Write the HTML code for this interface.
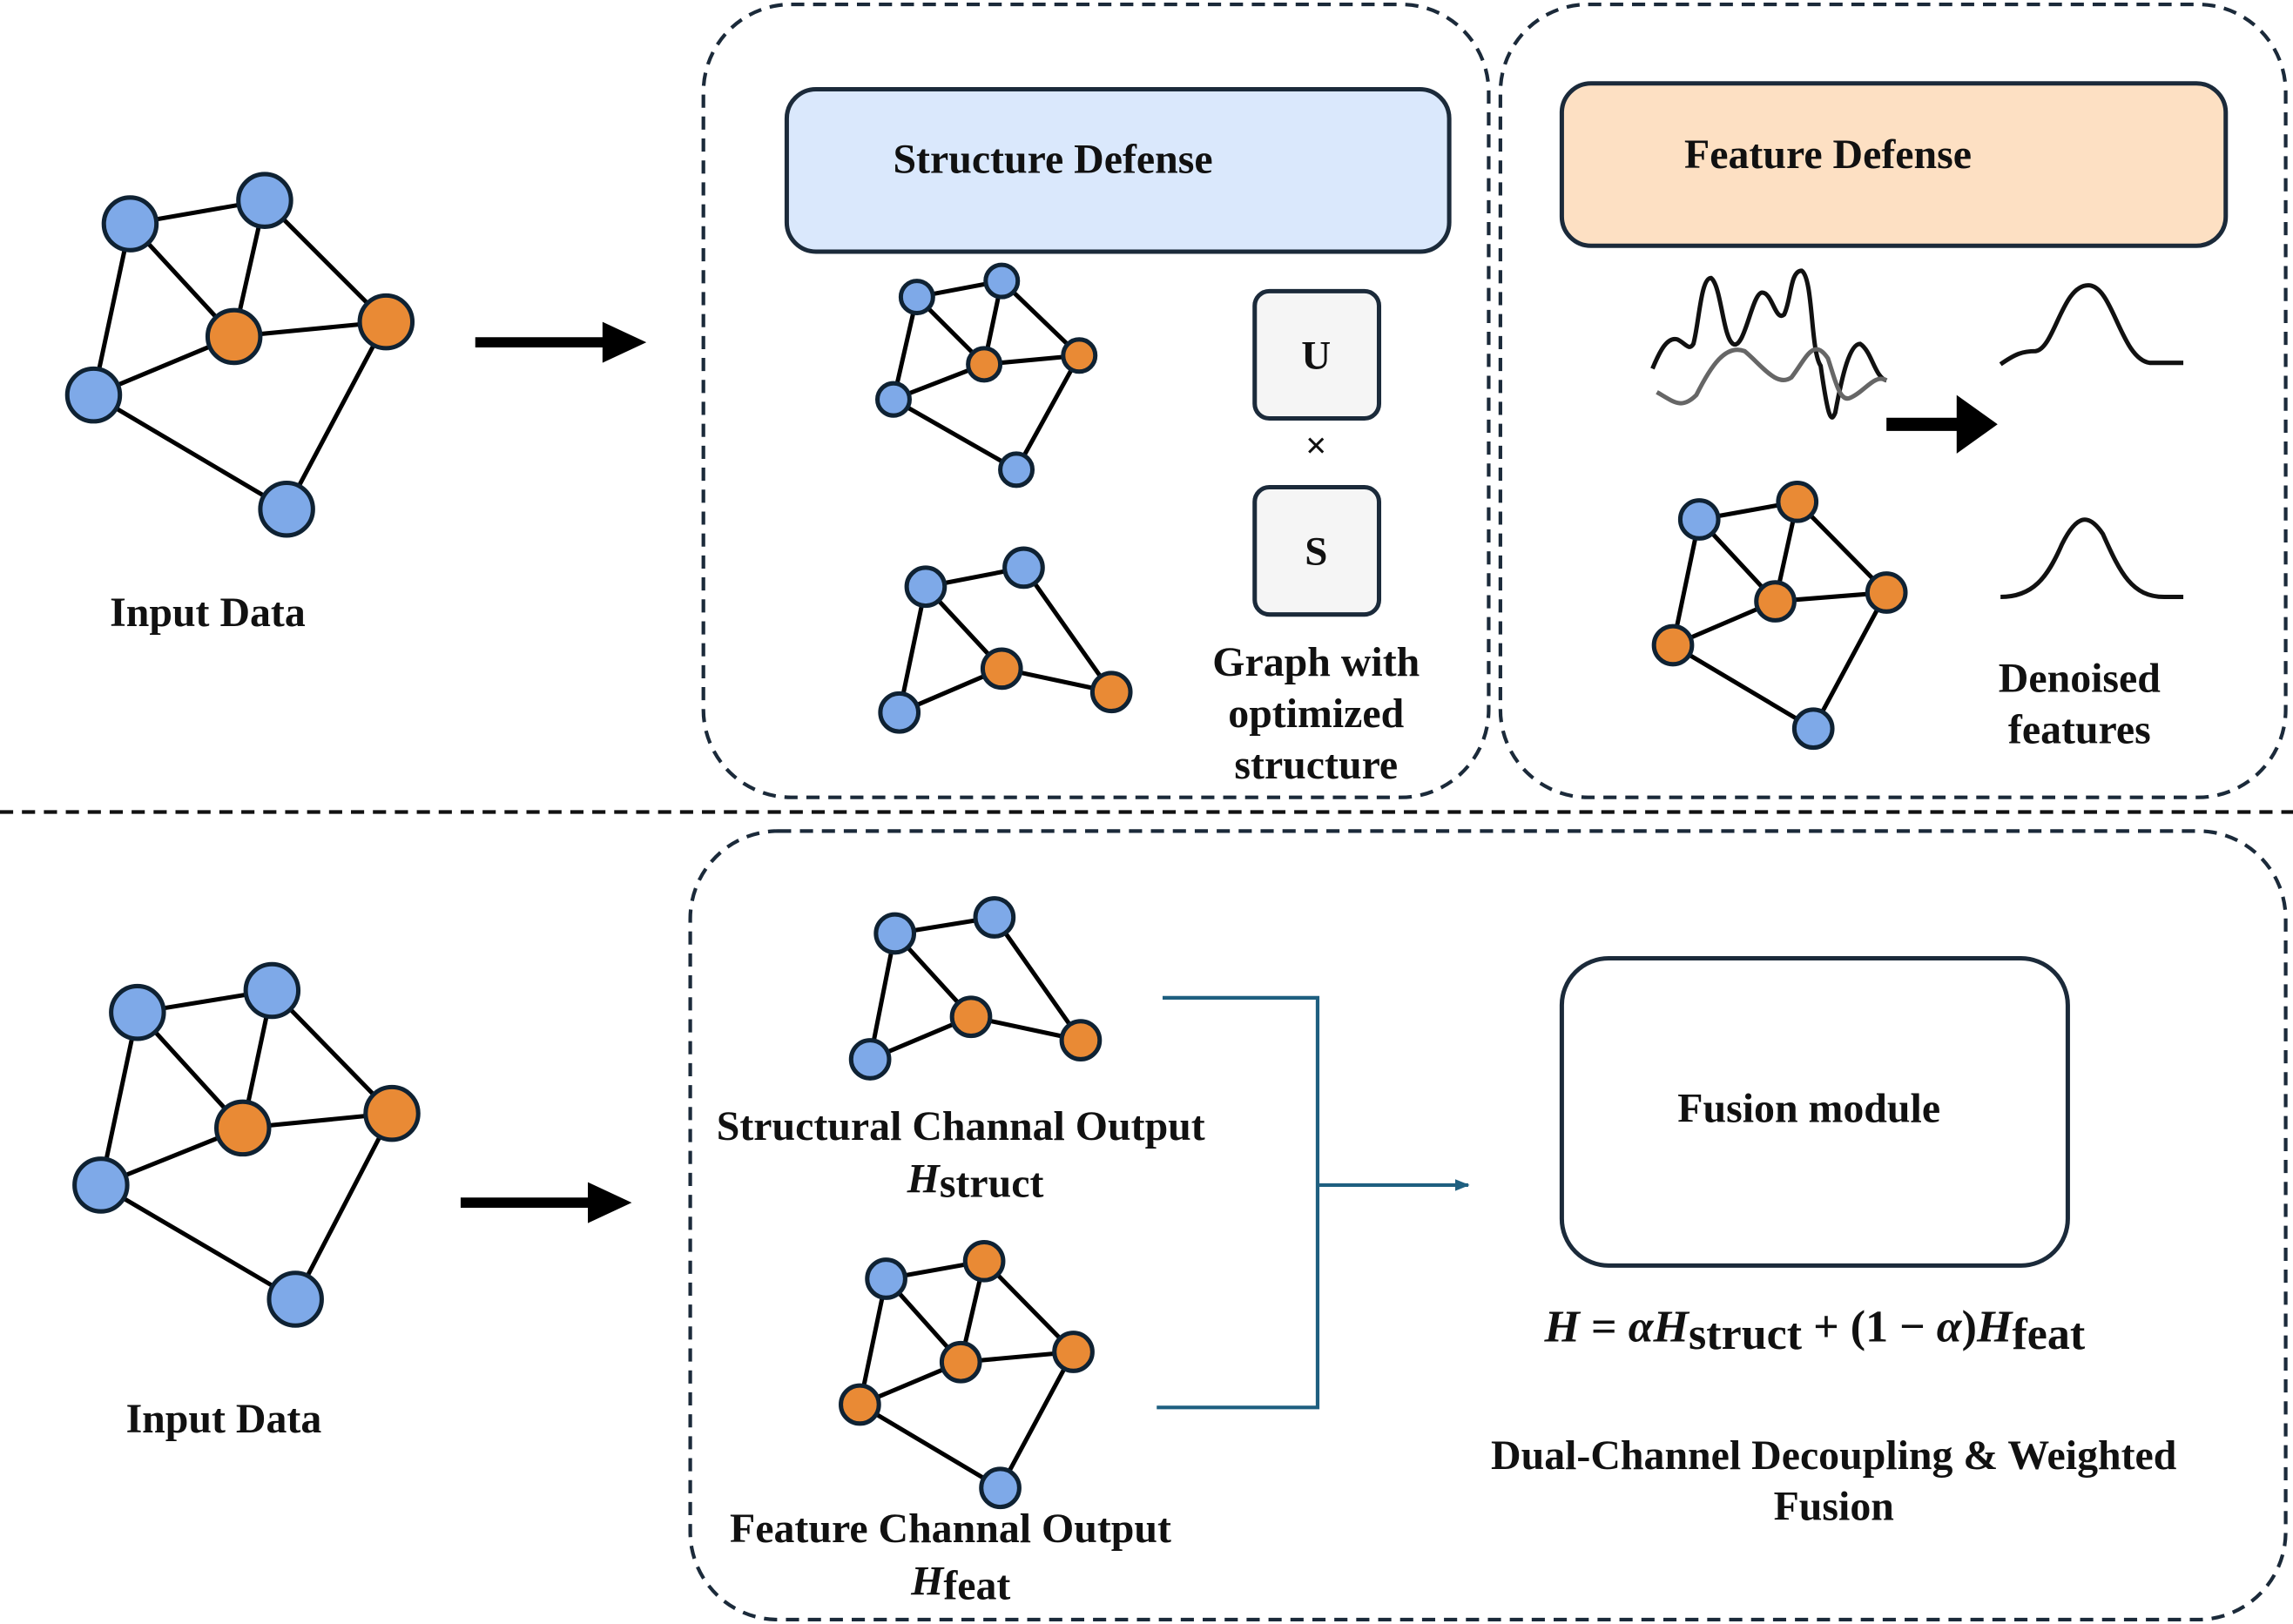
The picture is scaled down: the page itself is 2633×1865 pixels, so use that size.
<!DOCTYPE html>
<html><head><meta charset="utf-8"><style>
html,body{margin:0;padding:0;background:#fff;}
svg{display:block;}
text{font-family:"Liberation Serif",serif;font-weight:bold;fill:#111;}
</style></head><body>
<svg width="2633" height="1865" viewBox="0 0 1568 1110" preserveAspectRatio="none" xmlns="http://www.w3.org/2000/svg">
<defs>
<marker id="ah" markerWidth="10" markerHeight="10" refX="9" refY="5" orient="auto" markerUnits="userSpaceOnUse"><path d="M0,1 L10,5 L0,9 Z" fill="#1e5f80"/></marker>
</defs>
<g fill="none" stroke="#1b2a3a" stroke-width="2.5" stroke-dasharray="9,6">
<rect x="481" y="3" width="537" height="542" rx="60"/>
<rect x="1026" y="3" width="537" height="542" rx="60"/>
<rect x="472" y="568" width="1091" height="539" rx="60"/>
<line x1="0" y1="555" x2="1568" y2="555" stroke="#111"/>
</g>
<rect x="538" y="61" width="453" height="111" rx="20" fill="#dae8fc" stroke="#1b2a3a" stroke-width="3"/>
<text x="720" y="118" font-size="28.5" text-anchor="middle">Structure Defense</text>
<rect x="1068" y="57" width="454" height="111" rx="20" fill="#fde0c3" stroke="#1b2a3a" stroke-width="3"/>
<text x="1250" y="115" font-size="28.5" text-anchor="middle">Feature Defense</text>
<rect x="858" y="199" width="85" height="87" rx="10" fill="#f5f5f5" stroke="#1b2a3a" stroke-width="3"/>
<text x="900" y="252" font-size="28" text-anchor="middle">U</text>
<text x="900" y="313" font-size="26" text-anchor="middle">×</text>
<rect x="858" y="333" width="85" height="87" rx="10" fill="#f5f5f5" stroke="#1b2a3a" stroke-width="3"/>
<text x="900" y="386" font-size="28" text-anchor="middle">S</text>
<text x="900" y="462" font-size="28.5" text-anchor="middle">Graph with</text>
<text x="900" y="497" font-size="28.5" text-anchor="middle">optimized</text>
<text x="900" y="532" font-size="28.5" text-anchor="middle">structure</text>
<text x="142" y="428" font-size="28.5" text-anchor="middle">Input Data</text>
<text x="153" y="979" font-size="28.5" text-anchor="middle">Input Data</text>
<text x="1422" y="473" font-size="28.5" text-anchor="middle">Denoised</text>
<text x="1422" y="508" font-size="28.5" text-anchor="middle">features</text>
<text x="657" y="779" font-size="28.5" text-anchor="middle">Structural Channal Output</text>
<text x="667" y="815" font-size="28.5" text-anchor="middle"><tspan font-style="italic">H</tspan><tspan dy="3">struct</tspan></text>
<text x="650" y="1054" font-size="28.5" text-anchor="middle">Feature Channal Output</text>
<text x="657" y="1090" font-size="28.5" text-anchor="middle"><tspan font-style="italic">H</tspan><tspan dy="3">feat</tspan></text>
<rect x="1068" y="655" width="346" height="210" rx="32" fill="#fff" stroke="#1b2a3a" stroke-width="3"/>
<text x="1237" y="767" font-size="28.5" text-anchor="middle">Fusion module</text>
<text x="1241" y="917" font-size="31" text-anchor="middle"><tspan font-style="italic">H</tspan> = <tspan font-style="italic">αH</tspan><tspan dy="5">struct</tspan><tspan dy="-5"> + (1 − </tspan><tspan font-style="italic">α</tspan>)<tspan font-style="italic">H</tspan><tspan dy="5">feat</tspan></text>
<text x="1254" y="1004" font-size="28.5" text-anchor="middle">Dual-Channel Decoupling &amp; Weighted</text>
<text x="1254" y="1039" font-size="28.5" text-anchor="middle">Fusion</text>
<line x1="325" y1="234" x2="415" y2="234" stroke="#000" stroke-width="7"/>
<path d="M412,220 L442,234 L412,248 Z" fill="#000"/>
<line x1="315" y1="822" x2="405" y2="822" stroke="#000" stroke-width="7"/>
<path d="M402,808 L432,822 L402,836 Z" fill="#000"/>
<line x1="1290" y1="290" x2="1340" y2="290" stroke="#000" stroke-width="9"/>
<path d="M1338,270 L1366,290 L1338,310 Z" fill="#000"/>
<path d="M795,682 L901,682 L901,962 L791,962 M901,810 L1004,810" fill="none" stroke="#1e5f80" stroke-width="2.5" marker-end="url(#ah)"/>
<path d="M1130,252 C1135,240 1140,230 1147,232 C1153,235 1155,240 1158,235 C1162,220 1163,190 1170,190 C1177,195 1178,230 1185,235 C1193,240 1198,200 1205,200 C1212,200 1214,220 1220,215 C1225,205 1224,185 1232,185 C1240,190 1238,240 1245,250 C1250,285 1252,290 1255,282 C1260,255 1265,235 1272,235 C1280,240 1282,258 1290,260" fill="none" stroke="#111" stroke-width="3"/>
<path d="M1133,268 C1145,275 1150,280 1160,270 C1170,250 1180,235 1193,240 C1205,250 1215,265 1225,258 C1235,245 1240,230 1250,245 C1255,260 1258,275 1265,272 C1275,268 1282,255 1290,260" fill="none" stroke="#666" stroke-width="3"/>
<path d="M1368,249 C1378,242 1383,240 1392,240 C1405,238 1410,195 1428,195 C1445,195 1450,245 1470,248 L1493,248" fill="none" stroke="#111" stroke-width="3"/>
<path d="M1368,408 C1390,408 1400,395 1410,372 C1420,352 1428,350 1438,365 C1450,392 1458,408 1480,408 L1493,408" fill="none" stroke="#111" stroke-width="3"/>
<g stroke="#000" stroke-width="3">
<path d="M89,153L181,137M89,153L160,230M181,137L160,230M181,137L264,220M89,153L64,270M64,270L160,230M160,230L264,220M64,270L196,348M264,220L196,348"/>
<path d="M94,692L186,677M94,692L166,771M186,677L166,771M186,677L268,761M94,692L69,810M69,810L166,771M166,771L268,761M69,810L202,888M268,761L202,888"/>
<path d="M627,203L685,192M627,203L673,249M685,192L673,249M685,192L738,243M627,203L611,273M611,273L673,249M673,249L738,243M611,273L695,321M738,243L695,321"/>
<path d="M633,401L700,388M633,401L685,457M633,401L615,487M615,487L685,457M685,457L760,473M700,388L760,473"/>
<path d="M1162,355L1229,343M1162,355L1214,411M1229,343L1214,411M1229,343L1290,405M1162,355L1144,441M1144,441L1214,411M1214,411L1290,405M1144,441L1240,498M1290,405L1240,498"/>
<path d="M612,638L680,627M612,638L664,695M612,638L595,724M595,724L664,695M664,695L739,711M680,627L739,711"/>
<path d="M606,874L673,862M606,874L657,931M673,862L657,931M673,862L734,924M606,874L588,960M588,960L657,931M657,931L734,924M588,960L684,1017M734,924L684,1017"/>
</g>
<g stroke="#0f2233" stroke-width="3">
<g fill="#7ea9e8"><circle cx="89" cy="153" r="18"/><circle cx="181" cy="137" r="18"/><circle cx="64" cy="270" r="18"/><circle cx="196" cy="348" r="18"/>
<circle cx="94" cy="692" r="18"/><circle cx="186" cy="677" r="18"/><circle cx="69" cy="810" r="18"/><circle cx="202" cy="888" r="18"/>
<circle cx="627" cy="203" r="11"/><circle cx="685" cy="192" r="11"/><circle cx="611" cy="273" r="11"/><circle cx="695" cy="321" r="11"/>
<circle cx="633" cy="401" r="13"/><circle cx="700" cy="388" r="13"/><circle cx="615" cy="487" r="13"/>
<circle cx="1162" cy="355" r="13"/><circle cx="1240" cy="498" r="13"/>
<circle cx="612" cy="638" r="13"/><circle cx="680" cy="627" r="13"/><circle cx="595" cy="724" r="13"/>
<circle cx="606" cy="874" r="13"/><circle cx="684" cy="1017" r="13"/></g>
<g fill="#e98a35"><circle cx="160" cy="230" r="18"/><circle cx="264" cy="220" r="18"/>
<circle cx="166" cy="771" r="18"/><circle cx="268" cy="761" r="18"/>
<circle cx="673" cy="249" r="11"/><circle cx="738" cy="243" r="11"/>
<circle cx="685" cy="457" r="13"/><circle cx="760" cy="473" r="13"/>
<circle cx="1229" cy="343" r="13"/><circle cx="1214" cy="411" r="13"/><circle cx="1290" cy="405" r="13"/><circle cx="1144" cy="441" r="13"/>
<circle cx="664" cy="695" r="13"/><circle cx="739" cy="711" r="13"/>
<circle cx="673" cy="862" r="13"/><circle cx="657" cy="931" r="13"/><circle cx="734" cy="924" r="13"/><circle cx="588" cy="960" r="13"/></g>
</g>
</svg>
</body></html>
